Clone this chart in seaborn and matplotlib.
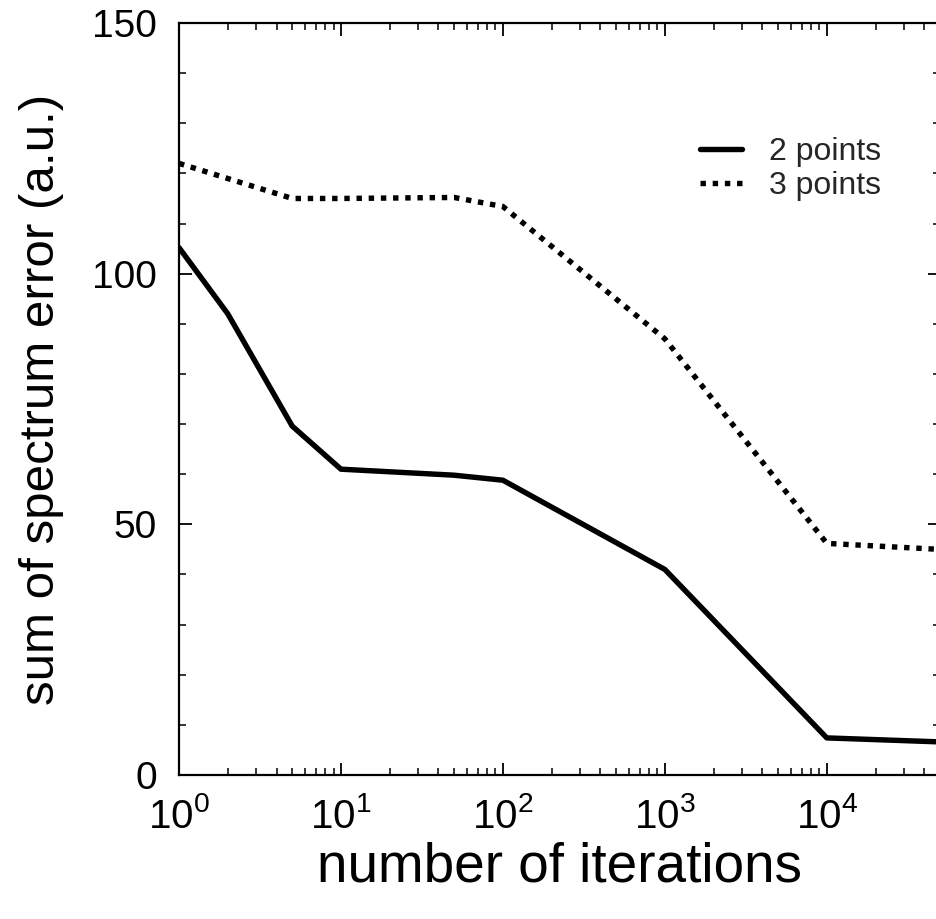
import matplotlib
matplotlib.use("Agg")
import matplotlib.pyplot as plt
import numpy as np
import pandas as pd
import seaborn as sns
from matplotlib.ticker import LogLocator, MultipleLocator, NullFormatter

# iterations and summed spectrum error for the two fitting variants
iters_2pt = [1, 2, 5, 10, 50, 100, 1000, 10000, 50000]
error_2pt = [105.2, 92.0, 69.6, 61.0, 59.8, 58.8, 41.0, 7.4, 6.6]

iters_3pt = [1, 5, 10, 50, 100, 1000, 10000, 50000]
error_3pt = [122.0, 115.0, 115.0, 115.2, 113.4, 87.0, 46.2, 45.0]

series_labels = ["2 points", "3 points"]
x_label = "number of iterations"
y_label = "sum of spectrum error (a.u.)"
y_ticks = [0, 50, 100, 150]

sns.set_theme(style="ticks")
plt.rcParams["font.family"] = ["Liberation Sans", "DejaVu Sans"]
plt.rcParams["mathtext.fontset"] = "custom"
plt.rcParams["mathtext.rm"] = "Liberation Sans"
plt.rcParams["mathtext.it"] = "Liberation Sans:italic"
plt.rcParams["mathtext.bf"] = "Liberation Sans:bold"

df = pd.concat([
    pd.DataFrame({"iterations": iters_2pt, "error": error_2pt, "series": series_labels[0]}),
    pd.DataFrame({"iterations": iters_3pt, "error": error_3pt, "series": series_labels[1]}),
])

W, H = 937, 919
fig = plt.figure(figsize=(W / 100, H / 100), dpi=100)
ax_left, ax_right, ax_top, ax_bottom = 179, 940, 23, 775
ax = fig.add_axes([ax_left / W, 1 - ax_bottom / H,
                   (ax_right - ax_left) / W, (ax_bottom - ax_top) / H])

LW = 3.9
DOTS = (1, 1.25)
sns.lineplot(data=df, x="iterations", y="error", style="series",
             hue="series", palette=["black", "black"],
             dashes={series_labels[0]: "", series_labels[1]: DOTS},
             linewidth=LW, ax=ax, legend=False, estimator=None, sort=False)

ax.set_xscale("log")
ax.set_xlim(1, 5e4)
ax.set_ylim(0, 150)

ax.set_yticks(y_ticks)
ax.yaxis.set_minor_locator(MultipleLocator(10))
ax.xaxis.set_major_locator(LogLocator(base=10, numticks=10))
ax.xaxis.set_minor_locator(LogLocator(base=10, subs=np.arange(2, 10), numticks=20))
ax.xaxis.set_minor_formatter(NullFormatter())

ax.tick_params(which="both", direction="in", top=True, right=True, color="black")
ax.tick_params(which="major", length=9, width=1.3, labelcolor="black")
ax.tick_params(which="minor", length=5, width=1.1)
ax.tick_params(axis="y", which="major", pad=16, labelsize=28)
ax.tick_params(axis="x", which="major", pad=16, labelsize=29)

for s in ax.spines.values():
    s.set_linewidth(1.6)
    s.set_color("black")

ax.set_xlabel(x_label, fontsize=39.5, color="black", labelpad=4)
ax.set_ylabel(y_label, fontsize=35.5, color="black", labelpad=20)

# legend entries drawn from the same line styles
handles = [plt.Line2D([], [], color="black", linewidth=LW),
           plt.Line2D([], [], color="black", linewidth=LW, dashes=DOTS)]
fig.legend(handles, series_labels, loc="upper left",
           bbox_to_anchor=(700 / W, 1 - 137 / H), bbox_transform=fig.transFigure,
           frameon=False, fontsize=23, handlelength=1.3, handletextpad=0.85,
           labelspacing=0.12, borderpad=0, borderaxespad=0)

fig.savefig("out.png", dpi=100, facecolor="white")
